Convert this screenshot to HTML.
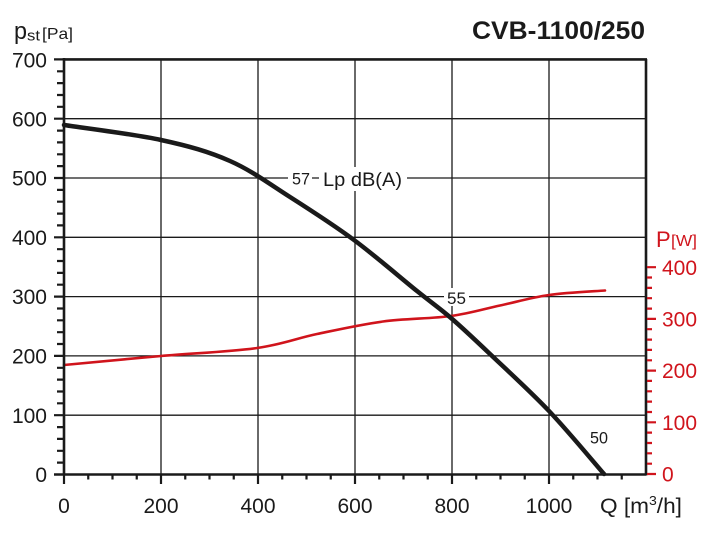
<!DOCTYPE html>
<html><head><meta charset="utf-8"><style>
html,body{margin:0;padding:0;background:#fff;}
svg{display:block;}
text{font-family:"Liberation Sans",Arial,sans-serif;}
</style></head><body>
<svg width="708" height="535" viewBox="0 0 708 535" xmlns="http://www.w3.org/2000/svg">
<rect width="708" height="535" fill="#fff"/>
<!-- grid -->
<g stroke="#1a1a1a" stroke-width="1.3" fill="none">
<path d="M161,59V474 M258,59V474 M355,59V474 M452,59V474 M549,59V474"/>
<path d="M64,415.2H646 M64,355.9H646 M64,296.6H646 M64,237.3H646 M64,178H646 M64,118.7H646"/>
</g>
<!-- label backgrounds -->
<rect x="288" y="168" width="24" height="21" fill="#fff"/>
<rect x="319" y="167" width="88" height="24" fill="#fff"/>
<rect x="444" y="288" width="25" height="18" fill="#fff"/>
<!-- curve labels -->
<g fill="#1a1a1a">
<text x="292" y="184.5" font-size="16.5" textLength="18" lengthAdjust="spacingAndGlyphs">57</text>
<text x="323" y="186" font-size="19" textLength="79" lengthAdjust="spacingAndGlyphs">Lp dB(A)</text>
<text x="447" y="304" font-size="17" textLength="19" lengthAdjust="spacingAndGlyphs">55</text>
<text x="590" y="443.5" font-size="17" textLength="18" lengthAdjust="spacingAndGlyphs">50</text>
</g>
<!-- curves -->
<path fill="none" stroke="#d0141c" stroke-width="2.6" stroke-linecap="round"
d="M64,365 C80.2,363.5 128.8,358.8 161,356 C193.2,353.2 231,351.7 257,348 C283,344.3 296,338.4 317,334 C338,329.6 360.7,324.5 383,321.5 C405.3,318.5 431.5,318.7 451,316 C470.5,313.3 483.7,309 500,305.5 C516.3,302 531.5,297.5 549,295 C566.5,292.5 595.7,291.25 605,290.5"/>
<path fill="none" stroke="#1a1a1a" stroke-width="4.5" stroke-linecap="round"
d="M64,125 C80.2,127.5 133.3,134 161,140 C188.7,146 208.5,151.5 230,161 C251.5,170.5 269.3,183.8 290,197 C310.7,210.2 332.8,224.3 354,240 C375.2,255.7 400.8,278 417,291 C433.2,304 438.8,307.5 451,318 C463.2,328.5 473.7,338.5 490,354 C506.3,369.5 530,391 549,411 C568,431 594.8,463.5 604,474"/>
<!-- axes frame -->
<g stroke="#1a1a1a" stroke-width="2.6" fill="none">
<path d="M64,59.4H647 M646,59V475.5 M64,58V475.5 M54,474.5H646"/>
</g>
<!-- left ticks -->
<g stroke="#1a1a1a" stroke-width="2.2">
<path d="M54,415.2H64 M54,355.9H64 M54,296.6H64 M54,237.3H64 M54,178H64 M54,118.7H64 M54,59.4H64"/>
<path d="M57,462.6H64 M57,450.8H64 M57,438.9H64 M57,427.1H64 M57,403.3H64 M57,391.5H64 M57,379.6H64 M57,367.8H64 M57,344H64 M57,332.2H64 M57,320.3H64 M57,308.5H64 M57,284.7H64 M57,272.9H64 M57,261H64 M57,249.2H64 M57,225.4H64 M57,213.6H64 M57,201.7H64 M57,189.9H64 M57,166.1H64 M57,154.3H64 M57,142.4H64 M57,130.6H64 M57,106.8H64 M57,95H64 M57,83.1H64 M57,71.3H64"/>
<!-- bottom ticks -->
<path d="M64,474V484 M161,474V484 M258,474V484 M355,474V484 M452,474V484 M549,474V484"/>
<path d="M88.25,474V479.5 M112.5,474V479.5 M136.75,474V479.5 M185.25,474V479.5 M209.5,474V479.5 M233.75,474V479.5 M282.25,474V479.5 M306.5,474V479.5 M330.75,474V479.5 M379.25,474V479.5 M403.5,474V479.5 M427.75,474V479.5 M476.25,474V479.5 M500.5,474V479.5 M524.75,474V479.5 M573.25,474V479.5 M597.5,474V479.5 M621.75,474V479.5"/>
</g>
<!-- right ticks (red) -->
<g stroke="#d0141c" stroke-width="2.2">
<path d="M647,474H656 M647,422.3H656 M647,370.6H656 M647,318.9H656 M647,267.2H656"/>
<path d="M647,463.7H652 M647,453.3H652 M647,443H652 M647,432.6H652 M647,412H652 M647,401.6H652 M647,391.3H652 M647,380.9H652 M647,360.3H652 M647,349.9H652 M647,339.6H652 M647,329.2H652 M647,308.6H652 M647,298.2H652 M647,287.9H652 M647,277.5H652"/>
</g>
<!-- left labels -->
<g fill="#1a1a1a" font-size="21" text-anchor="end">
<text x="47" y="482">0</text>
<text x="47" y="423">100</text>
<text x="47" y="363.5">200</text>
<text x="47" y="304">300</text>
<text x="47" y="245">400</text>
<text x="47" y="185.5">500</text>
<text x="47" y="126.5">600</text>
<text x="47" y="67.5">700</text>
</g>
<!-- bottom labels -->
<g fill="#1a1a1a" font-size="21" text-anchor="middle">
<text x="64" y="513">0</text>
<text x="161" y="513">200</text>
<text x="258" y="513">400</text>
<text x="355" y="513">600</text>
<text x="452" y="513">800</text>
<text x="549" y="513">1000</text>
</g>
<text x="600" y="513" font-size="21" fill="#1a1a1a" textLength="82" lengthAdjust="spacingAndGlyphs">Q [m<tspan font-size="13" dy="-8">3</tspan><tspan dy="8">/h]</tspan></text>
<!-- right labels -->
<g fill="#d0141c" font-size="21">
<text x="662" y="481.5">0</text>
<text x="662" y="430">100</text>
<text x="662" y="378">200</text>
<text x="662" y="326.5">300</text>
<text x="662" y="275">400</text>
</g>
<text x="656" y="247" font-size="22" fill="#d0141c">P</text>
<text x="671" y="246" font-size="15.5" fill="#d0141c" textLength="26" lengthAdjust="spacingAndGlyphs">[W]</text>
<!-- left axis title -->
<text x="14" y="39" font-size="24" fill="#1a1a1a" textLength="13" lengthAdjust="spacingAndGlyphs">p</text>
<text x="27" y="40.5" font-size="15" fill="#1a1a1a" textLength="13" lengthAdjust="spacingAndGlyphs">st</text>
<text x="42" y="39" font-size="16" fill="#1a1a1a" textLength="31" lengthAdjust="spacingAndGlyphs">[Pa]</text>
<!-- title -->
<text x="472" y="39" font-size="25" font-weight="bold" fill="#1a1a1a" textLength="173" lengthAdjust="spacingAndGlyphs">CVB-1100/250</text>
</svg>
</body></html>
